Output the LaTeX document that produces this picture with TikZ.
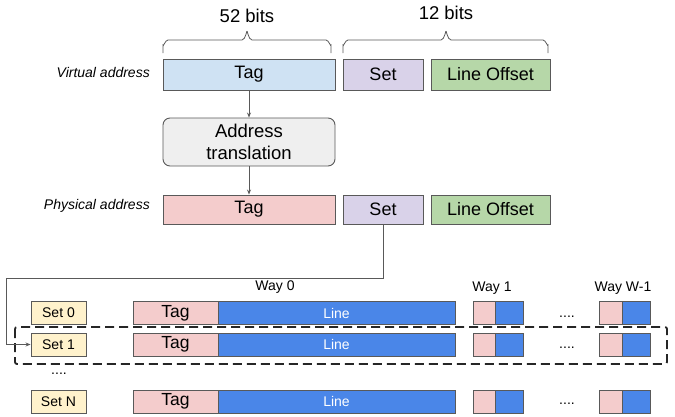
\documentclass[tikz,border=0pt]{standalone}
\usepackage{fontspec}
\setmainfont{Liberation Sans}
\usetikzlibrary{arrows.meta}
\definecolor{edge}{HTML}{595959}
\definecolor{vtagc}{HTML}{CFE2F3}
\definecolor{setc}{HTML}{D9D2E9}
\definecolor{offc}{HTML}{B6D7A8}
\definecolor{ptagc}{HTML}{F4CCCC}
\definecolor{transc}{HTML}{EFEFEF}
\definecolor{rowsetc}{HTML}{FFF2CC}
\definecolor{linec}{HTML}{4A86E8}
\begin{document}
\begin{tikzpicture}[x=1pt,y=-1pt,
  box/.style={draw=edge, line width=0.9pt, inner sep=0pt, font=\fontsize{18}{20}\selectfont},
  rowbox/.style={draw=edge, line width=0.9pt, inner sep=0pt, minimum height=23pt},
  lbl/.style={font=\itshape\fontsize{14}{16}\selectfont, anchor=east, inner sep=0pt},
  small/.style={font=\fontsize{14}{16}\selectfont, inner sep=0pt},
  conn/.style={draw=edge, line width=0.8pt},
  arr/.style={conn, -{Stealth[length=5pt,width=4pt]}}
]
\useasboundingbox (0,0) rectangle (675,416);
% top braces
\draw[conn] (163,53) -- (163,45) to[out=-90,in=180] (168,40) -- (242,40) to[out=0,in=90] (247,32) to[out=90,in=180] (252,40) -- (326,40) to[out=0,in=-90] (331,45) -- (331,53);
\draw[conn] (343,53) -- (343,45) to[out=-90,in=180] (348,40) -- (441,40) to[out=0,in=90] (446,32) to[out=90,in=180] (451,40) -- (543,40) to[out=0,in=-90] (548,45) -- (548,53);
\node[small, font=\fontsize{18.5}{20}\selectfont] (b52) at (247,16) {52 bits};
\node[small, font=\fontsize{18.5}{20}\selectfont] (b12) at (446,13) {12 bits};
% virtual address
\node[lbl] (vlbl) at (150,72) {Virtual address};
\node[box, fill=vtagc, minimum width=172pt, minimum height=31pt] (vtag) at (249,74.5) {Tag};
\node[box, fill=setc, minimum width=80pt, minimum height=31pt] (vset) at (383,74.5) {Set};
\node[box, fill=offc, minimum width=119pt, minimum height=31pt] (voff) at (490.5,74.5) {Line Offset};
% translation
\node[box, fill=transc, rounded corners=7pt, minimum width=172pt, minimum height=48pt, align=center, font=\fontsize{18.5}{22}\selectfont] (trans) at (249,142) {Address\\translation};
% physical
\node[lbl] (plbl) at (150,206) {Physical address};
\node[box, fill=ptagc, minimum width=172pt, minimum height=29pt] (ptag) at (249,209.5) {Tag};
\node[box, fill=setc, minimum width=80pt, minimum height=29pt] (pset) at (383,209.5) {Set};
\node[box, fill=offc, minimum width=119pt, minimum height=29pt] (poff) at (490.5,209.5) {Line Offset};
\draw[arr] (vtag) -- (trans);
\draw[arr] (trans) -- (ptag);
% way labels
\node[small] (w0) at (275,287) {Way 0};
\node[small] (w1) at (492,288) {Way 1};
\node[small] (wn) at (623,288) {Way W-1};
% rows
\foreach \r/\y/\s in {0/313/Set 0,1/344.5/Set 1,2/401.5/Set N}{
  \node[rowbox, fill=rowsetc, minimum width=55pt, font=\fontsize{14}{16}\selectfont] (set\r) at (58.5,\y) {\s};
  \node[rowbox, fill=ptagc, minimum width=85pt, font=\fontsize{17.5}{19}\selectfont] (tag\r) at (175.5,\y) {Tag};
  \node[rowbox, fill=linec, minimum width=237pt, text=white, font=\fontsize{14}{16}\selectfont] (line\r) at (336.5,\y) {Line};
  \node[rowbox, fill=ptagc, minimum width=22pt] (atag\r) at (484,\y) {};
  \node[rowbox, fill=linec, minimum width=28pt] (aline\r) at (509,\y) {};
  \node[rowbox, fill=ptagc, minimum width=23pt] (btag\r) at (610.5,\y) {};
  \node[rowbox, fill=linec, minimum width=28pt] (bline\r) at (636,\y) {};
}
\node[small] (d0) at (567,317) {....};
\node[small] (d1) at (567,348) {....};
\node[small] (d2) at (567,404) {....};
\node[small] (dl) at (59,374) {....};
% dashed selection
\draw[black!85, line width=1.8pt, dash pattern=on 9pt off 5pt, rounded corners=2pt] (15,327) rectangle (667,364);
% connector
\coordinate (c1) at (383,278);
\coordinate (c2) at (6,278);
\coordinate (c3) at (6,344.5);
\draw[arr] (pset.south) -- (c1) -- (c2) -- (c3) -- (set1.west);
\end{tikzpicture}
\end{document}
